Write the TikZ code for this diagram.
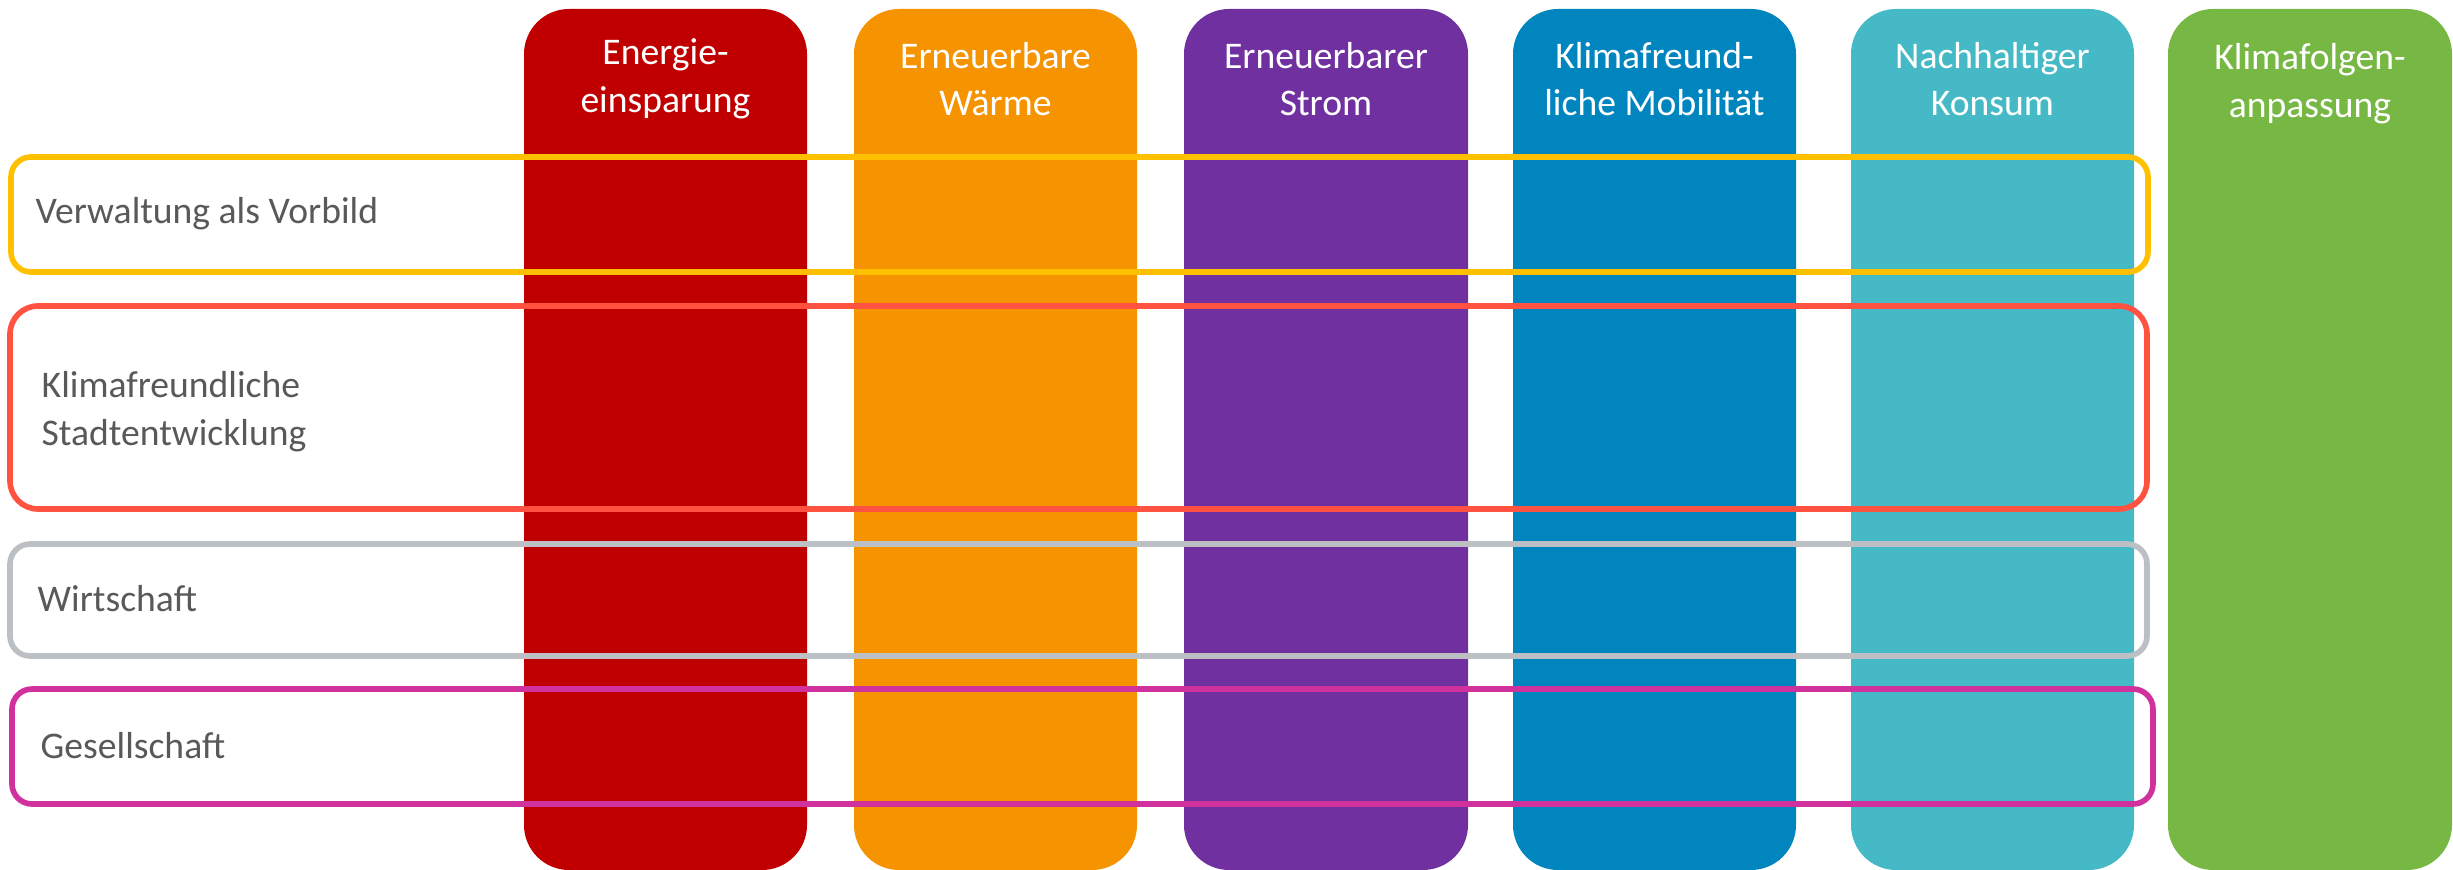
\documentclass[tikz,border=0pt]{standalone}
\usepackage{fontspec}
\setmainfont{Carlito}
\definecolor{cRed}{HTML}{C00000}
\definecolor{cOrange}{HTML}{F59300}
\definecolor{cPurple}{HTML}{7030A0}
\definecolor{cBlue}{HTML}{0085BF}
\definecolor{cTeal}{HTML}{45B9C6}
\definecolor{cGreen}{HTML}{77B844}
\definecolor{rYellow}{HTML}{FFC000}
\definecolor{rRed}{HTML}{FF5240}
\definecolor{rGray}{HTML}{BCC0C4}
\definecolor{rMagenta}{HTML}{D1319C}
\definecolor{txtGray}{HTML}{595959}
\tikzset{
  colbox/.style={rounded corners=0.45cm},
  rowbox/.style={line width=1.6pt, rounded corners=0.2cm},
  colhead/.style={text=white, align=center, font=\fontsize{10.7}{13.6}\selectfont, inner sep=0pt},
  rowlabel/.style={text=txtGray, align=left, anchor=west, font=\fontsize{10.7}{13.6}\selectfont, inner sep=0pt},
}
\begin{document}
\begin{tikzpicture}[x=0.01cm, y=-0.01cm]
\useasboundingbox (0,0) rectangle (2453,870);
% columns
\fill[cRed, colbox] (524,9) rectangle (807,870);
\fill[cOrange, colbox] (854,9) rectangle (1137,870);
\fill[cPurple, colbox] (1184,9) rectangle (1468,870);
\fill[cBlue, colbox] (1513,9) rectangle (1796,870);
\fill[cTeal, colbox] (1851,9) rectangle (2134,870);
\fill[cGreen, colbox] (2168,9) rectangle (2452,870);
% column headings
\node[colhead] (h1) at (665.5,79) {Energie-\\einsparung};
\node[colhead] (h2) at (995.5,79) {Erneuerbare\\Wärme};
\node[colhead] (h3) at (1326,79) {Erneuerbarer\\Strom};
\node[colhead] (h4) at (1654.5,79) {Klimafreund-\\liche Mobilität};
\node[colhead] (h5) at (1992.5,79) {Nachhaltiger\\Konsum};
\node[colhead] (h6) at (2310,84) {Klimafolgen-\\anpassung};
% row boxes
\draw[rowbox, rYellow] (11,157) rectangle (2148,272);
\draw[rowbox, rRed, rounded corners=0.28cm] (10,306) rectangle (2147,509);
\draw[rowbox, rGray] (10,544) rectangle (2147,656);
\draw[rowbox, rMagenta] (12,689) rectangle (2153,804);
% row labels
\node[rowlabel] (r1) at (35,214) {Verwaltung als Vorbild};
\node[rowlabel] (r2) at (41,412) {Klimafreundliche\\Stadtentwicklung};
\node[rowlabel] (r3) at (37,599) {Wirtschaft};
\node[rowlabel] (r4) at (40,746) {Gesellschaft};
\end{tikzpicture}
\end{document}
